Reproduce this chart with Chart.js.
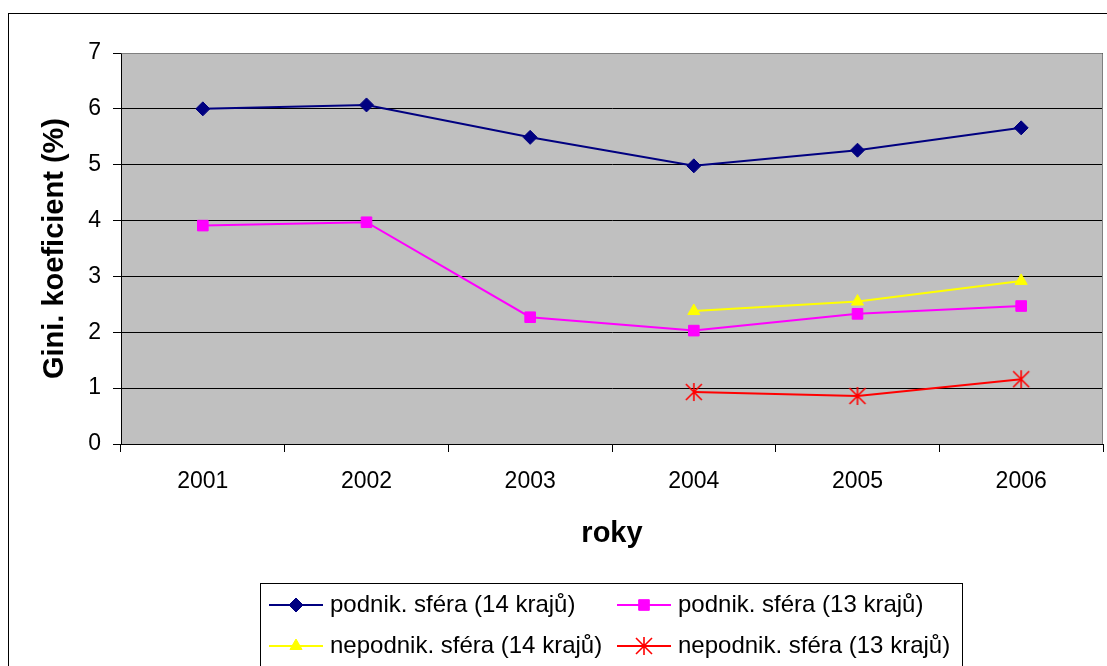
<!DOCTYPE html>
<html>
<head>
<meta charset="utf-8">
<script src="https://cdn.jsdelivr.net/npm/chart.js@4.4.1/dist/chart.umd.min.js"></script>
<style>
    html, body {
        margin: 0;
        padding: 0;
        background: #fff;
        overflow: hidden;
    }
    #frame {
        position: absolute;
        left: 8px;
        top: 13px;
        width: 1130px;
        height: 700px;
        border: 1px solid #000;
    }
    #wrap {
        position: absolute;
        left: 0;
        top: 0;
        width: 1113px;
        height: 666px;
    }
</style>
</head>
<body>
<div id="frame"></div>
<div id="wrap"><canvas id="giniChart" width="1113" height="666"></canvas></div>
<script>
// values
const years = ["2001", "2002", "2003", "2004", "2005", "2006"];
const podnik14 = [6.00, 6.07, 5.49, 4.98, 5.26, 5.66];
const podnik13 = [3.91, 3.97, 2.27, 2.03, 2.33, 2.47];
const nepodnik14 = [null, null, null, 2.38, 2.55, 2.92];
const nepodnik13 = [null, null, null, 0.93, 0.86, 1.16];
const seriesNames = [
    "podnik. sféra (14 krajů)",
    "podnik. sféra (13 krajů)",
    "nepodnik. sféra (14 krajů)",
    "nepodnik. sféra (13 krajů)",
];
const yMin = 0;
const yMax = 7;
const yStep = 1;

const fontFamily = "'Liberation Sans', Arial, Helvetica, sans-serif";
Chart.defaults.font.family = fontFamily;
Chart.defaults.color = "#000";

// excel style asterisk: an X plus a vertical stroke
function makeAsterisk(color) {
    const c = document.createElement("canvas");
    c.width = 20;
    c.height = 20;
    const g = c.getContext("2d");
    g.strokeStyle = color;
    g.lineWidth = 1.6;
    g.beginPath();
    g.moveTo(2, 2);
    g.lineTo(18, 18);
    g.moveTo(18, 2);
    g.lineTo(2, 18);
    g.moveTo(10, 1);
    g.lineTo(10, 19);
    g.stroke();
    return c;
}

// grey plot area + grey top/right frame
const plotBackground = {
    id: "plotBackground",
    beforeDraw(chart) {
        const a = chart.chartArea;
        const ctx = chart.ctx;
        ctx.save();
        ctx.fillStyle = "#c0c0c0";
        ctx.fillRect(a.left, a.top, a.right - a.left, a.bottom - a.top);
        ctx.restore();
    },
    afterDatasetsDraw(chart) {
        const a = chart.chartArea;
        const ctx = chart.ctx;
        ctx.save();
        ctx.strokeStyle = "#808080";
        ctx.lineWidth = 1;
        ctx.beginPath();
        ctx.moveTo(Math.round(a.left) + 0.5, Math.round(a.top) + 0.5);
        ctx.lineTo(Math.round(a.right) - 0.5, Math.round(a.top) + 0.5);
        ctx.lineTo(Math.round(a.right) - 0.5, Math.round(a.bottom));
        ctx.stroke();
        ctx.restore();
    },
};

// boxed two-column legend like the original
const boxLegend = {
    id: "boxLegend",
    afterDraw(chart) {
        const ctx = chart.ctx;
        const cols = [269, 617];
        const rows = [605, 646];
        ctx.save();
        ctx.strokeStyle = "#000";
        ctx.lineWidth = 1;
        ctx.strokeRect(260.5, 583.5, 702, 120);

        chart.data.datasets.forEach((ds, i) => {
            const x = cols[i % 2];
            const y = rows[Math.floor(i / 2)];

            ctx.strokeStyle = ds.borderColor;
            ctx.lineWidth = 2;
            ctx.beginPath();
            ctx.moveTo(x, y);
            ctx.lineTo(x + 54, y);
            ctx.stroke();

            ctx.fillStyle = ds.pointBackgroundColor;
            ctx.strokeStyle = ds.pointBorderColor;
            ctx.lineWidth = ds.pointBorderWidth;
            if (Chart.helpers && Chart.helpers.drawPoint) {
                Chart.helpers.drawPoint(ctx, {
                    pointStyle: ds.pointStyle,
                    radius: ds.pointRadius,
                    borderWidth: ds.pointBorderWidth,
                    rotation: 0,
                }, x + 27, y);
            }

            ctx.fillStyle = "#000";
            ctx.font = "24px " + fontFamily;
            ctx.textAlign = "left";
            ctx.textBaseline = "middle";
            ctx.fillText(ds.label, x + 61, y);
        });
        ctx.restore();
    },
};

function makeSeries(label, data, color, style, radius, borderWidth) {
    return {
        label: label,
        data: data,
        borderColor: color,
        backgroundColor: color,
        borderWidth: 2,
        pointStyle: style,
        pointRadius: radius,
        pointHoverRadius: radius,
        pointBackgroundColor: color,
        pointBorderColor: color,
        pointBorderWidth: borderWidth,
        tension: 0,
        fill: false,
    };
}

const ctx = document.getElementById("giniChart").getContext("2d");

new Chart(ctx, {
    type: "line",
    data: {
        labels: years,
        datasets: [
            makeSeries(seriesNames[0], podnik14, "#000080", "rectRot", 7, 1),
            makeSeries(seriesNames[1], podnik13, "#ff00ff", "rect", 7.5, 1),
            makeSeries(seriesNames[2], nepodnik14, "#ffff00", "triangle", 7, 1),
            makeSeries(seriesNames[3], nepodnik13, "#ff0000", makeAsterisk("#ff0000"), 9, 1),
        ],
    },
    options: {
        responsive: false,
        animation: false,
        devicePixelRatio: 1,
        layout: {
            padding: { top: 53, right: 4, bottom: 0, left: 0 },
        },
        plugins: {
            legend: { display: false },
            tooltip: { enabled: false },
        },
        scales: {
            x: {
                offset: true,
                ticks: {
                    color: "#000",
                    padding: 16,
                    maxRotation: 0,
                    autoSkip: false,
                    font: { size: 23 },
                },
                grid: {
                    offset: true,
                    drawOnChartArea: false,
                    drawTicks: true,
                    tickLength: 8,
                    color: "#000",
                },
                border: { color: "#000", width: 1 },
                title: {
                    display: true,
                    text: "roky",
                    color: "#000",
                    font: { size: 29, weight: "bold" },
                    padding: { top: 0, bottom: 115 },
                },
                afterFit(scale) {
                    scale.height = 222;
                },
            },
            y: {
                min: yMin,
                max: yMax,
                ticks: {
                    stepSize: yStep,
                    color: "#000",
                    padding: 12,
                    font: { size: 23 },
                },
                grid: {
                    color: "#000",
                    lineWidth: 1,
                    tickLength: 8,
                },
                border: { color: "#000", width: 1 },
                title: {
                    display: true,
                    text: "Gini. koeficient (%)",
                    color: "#000",
                    font: { size: 29, weight: "bold" },
                    padding: { top: 38, bottom: 0 },
                },
                afterFit(scale) {
                    scale.width = 121;
                },
            },
        },
    },
    plugins: [plotBackground, boxLegend],
});
</script>
</body>
</html>
